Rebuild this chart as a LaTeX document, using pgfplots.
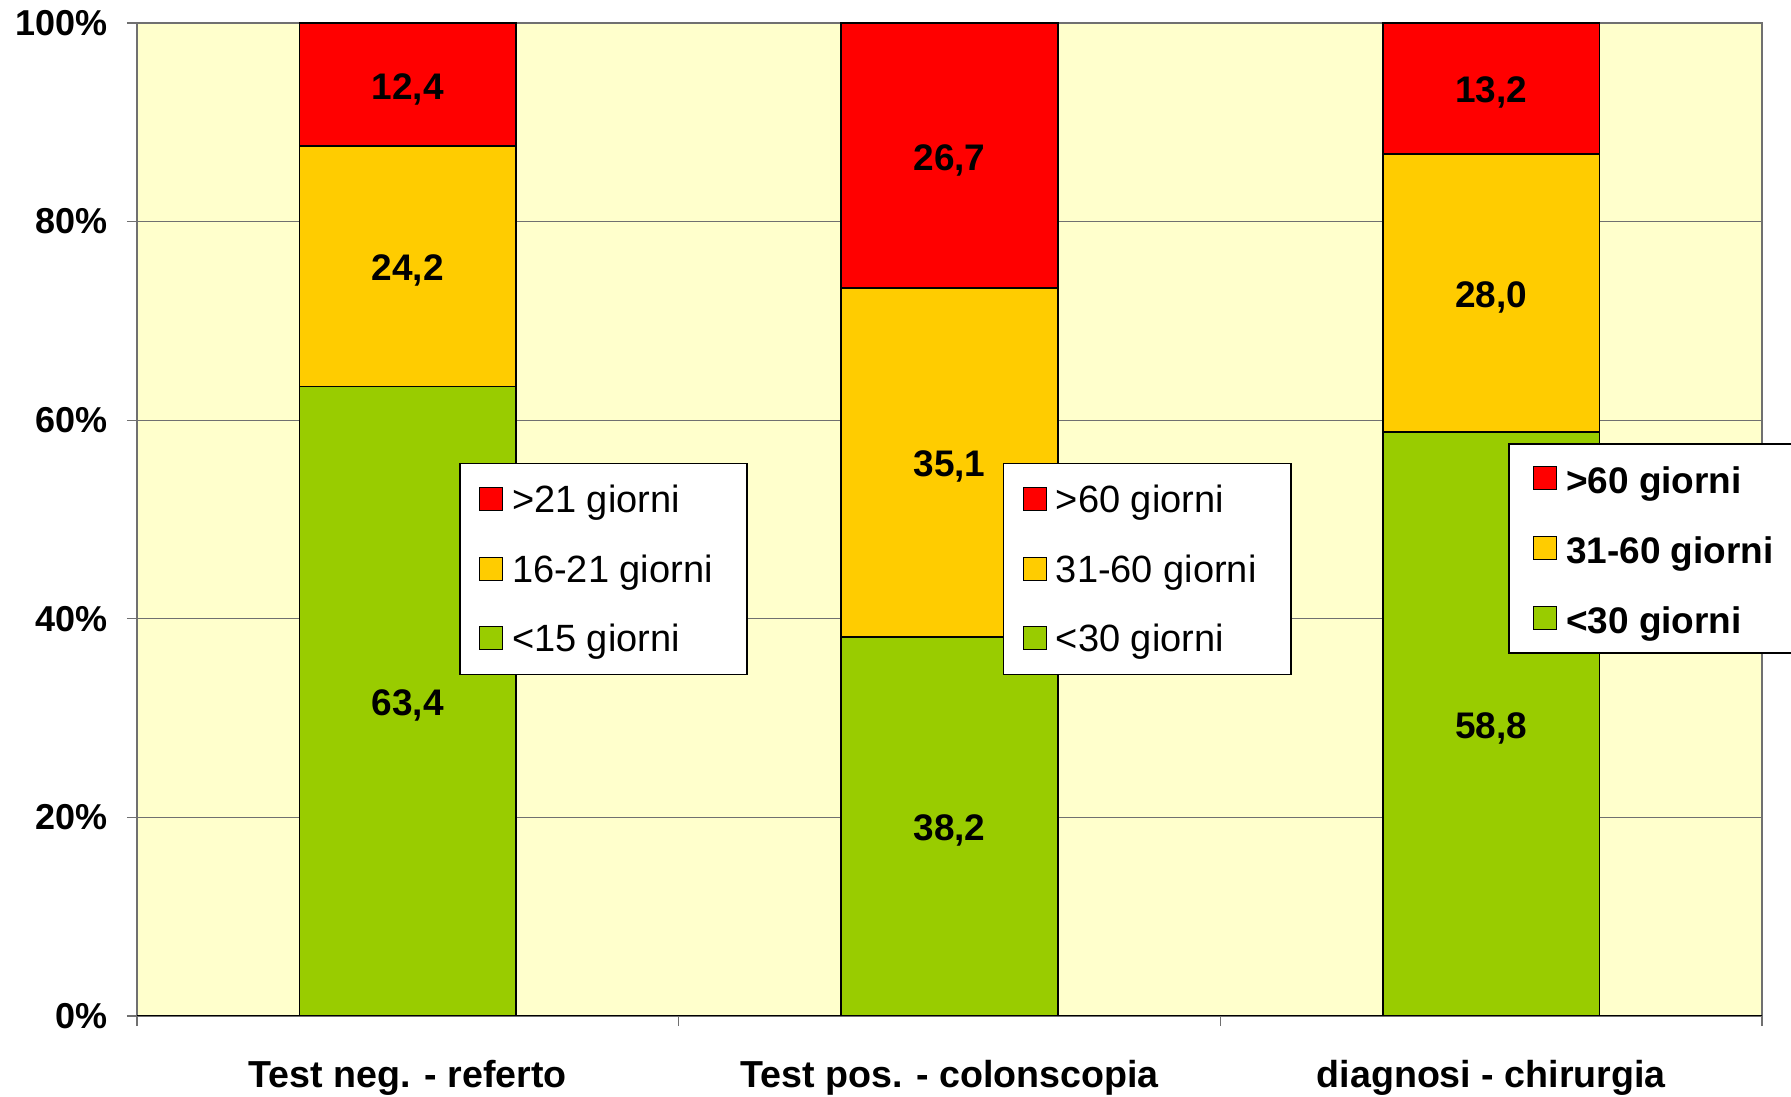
\documentclass[border=0pt]{standalone}
\usepackage{pgfplots}
\pgfplotsset{compat=1.18}
\usepackage{fontspec}
\setmainfont{Liberation Sans}
\definecolor{cred}{HTML}{FF0000}
\definecolor{cyel}{HTML}{FFCC00}
\definecolor{cgrn}{HTML}{99CC00}
\definecolor{cbg}{HTML}{FFFFCC}
\definecolor{cgrid}{HTML}{707070}

\pgfplotsset{
  base/.style={
    at={(68.5pt,40pt)}, anchor=south west,
    scale only axis, width=812.5pt, height=496.5pt,
    xmin=-0.5, xmax=2.5, ymin=0, ymax=100,
    /pgf/number format/assume math mode=true,
    ybar stacked, bar width=0.4,
    point meta=rawy,
    nodes near coords={\pgfmathprintnumber[fixed,fixed zerofill,precision=1,use comma]{\pgfplotspointmeta}},
    nodes near coords style={font=\fontsize{18.5pt}{20pt}\selectfont\bfseries, anchor=center, text=black, yshift=-2.2pt},
    reverse legend,
    legend cell align=left,
    legend image code/.code={\draw[##1,draw=black,line width=0.6pt] (0pt,-5.75pt) rectangle (11.5pt,5.75pt);},
    legend style={draw=black, line width=0.75pt, fill=white, anchor=north west,
      inner xsep=9.5pt, inner ysep=9.25pt, row sep=17.25pt, column sep=4.5pt,
      font=\fontsize{19pt}{21pt}\selectfont,
      nodes={inner sep=0pt, text height=15.5pt, text depth=2pt}},
    every axis plot/.append style={draw=black, line width=0.9pt},
  },
}

\begin{document}
\begin{tikzpicture}
\useasboundingbox (0,0) rectangle (895.5pt,548pt);
\clip (0,0) rectangle (895.5pt,548pt);

% Axis 1: frame, grid, ticks, first category
\begin{axis}[base,
  axis background/.style={fill=cbg},
  axis line style={cgrid, line width=0.6pt},
  ymajorgrids, grid style={cgrid, line width=0.6pt},
  ytick={0,20,...,100},
  yticklabel={\pgfmathprintnumber{\tick}\%},
  yticklabel style={font=\fontsize{18pt}{20pt}\selectfont\bfseries, inner sep=0pt, xshift=-9.5pt},
  tick align=outside, xtick pos=bottom, ytick pos=left,
  major tick length=5pt, tick style={cgrid, line width=0.6pt},
  xtick={-0.5,0.5,1.5,2.5}, xticklabels={},
  extra x ticks={0,1,2},
  extra x tick labels={Test neg. - referto, Test pos. - colonscopia, diagnosi - chirurgia},
  extra x tick style={major tick length=0pt, grid=none,
    xticklabel style={font=\fontsize{18.8pt}{21pt}\selectfont\bfseries, inner sep=0pt, anchor=north, yshift=-22pt}},
  legend style={at={(0.1982,0.5573)}},
]
\addplot[fill=cgrn] coordinates {(0,63.4)};
\addplot[fill=cyel] coordinates {(0,24.2)};
\addplot[fill=cred] coordinates {(0,12.4)};
\addlegendentry{\makebox[108pt][l]{<15 giorni}}
\addlegendentry{\makebox[108pt][l]{16-21 giorni}}
\addlegendentry{\makebox[108pt][l]{>21 giorni}}
\draw[black, line width=0.75pt] (rel axis cs:0,0) -- (rel axis cs:1,0);
\end{axis}

% Axis 2
\begin{axis}[base, hide axis,
  legend style={at={(0.5329,0.5573)}},
]
\addplot[fill=cgrn] coordinates {(1,38.2)};
\addplot[fill=cyel] coordinates {(1,35.1)};
\addplot[fill=cred] coordinates {(1,26.7)};
\addlegendentry{\makebox[108pt][l]{<30 giorni}}
\addlegendentry{\makebox[108pt][l]{31-60 giorni}}
\addlegendentry{\makebox[108pt][l]{>60 giorni}}
\end{axis}

% Axis 3
\begin{axis}[base, hide axis,
  legend style={at={(0.8437,0.5770)}, inner xsep=12pt, inner ysep=8.5pt, row sep=17.5pt,
    font=\fontsize{18.5pt}{20pt}\selectfont\bfseries,
    nodes={inner sep=0pt, text height=16.5pt, text depth=1pt}},
]
\addplot[fill=cgrn] coordinates {(2,58.8)};
\addplot[fill=cyel] coordinates {(2,28.0)};
\addplot[fill=cred] coordinates {(2,13.2)};
\addlegendentry{\makebox[150pt][l]{<30 giorni}}
\addlegendentry{\makebox[150pt][l]{31-60 giorni}}
\addlegendentry{\makebox[150pt][l]{>60 giorni}}
\end{axis}
\end{tikzpicture}
\end{document}
